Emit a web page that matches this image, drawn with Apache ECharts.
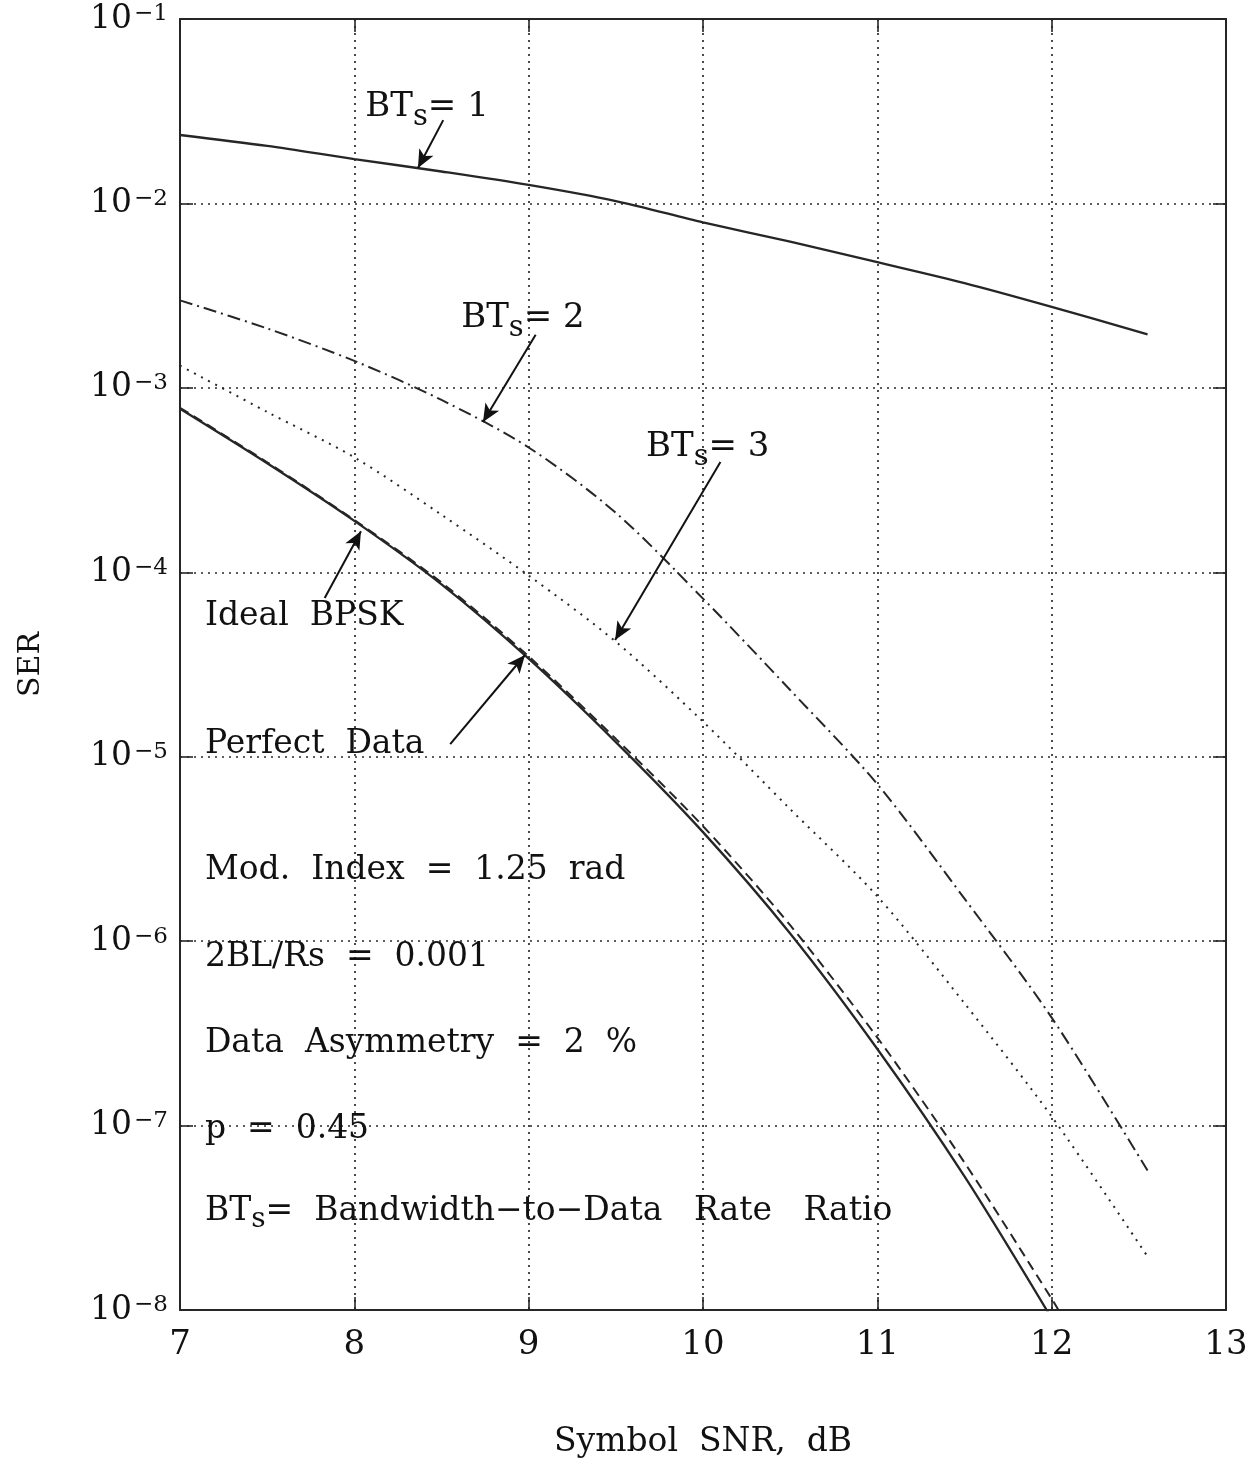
<!DOCTYPE html>
<html>
<head>
<meta charset="utf-8">
<script src="https://cdn.jsdelivr.net/npm/echarts@6/dist/echarts.min.js"></script>
<style>
  html, body { margin: 0; padding: 0; background: #ffffff; }
  #chart { width: 1257px; height: 1464px; }
</style>
</head>
<body>
<div id="chart"></div>
<script>
// Symbol SNR (dB) and symbol error rate for each curve
const snrBt = [7, 7.5, 8, 8.5, 9, 9.5, 10, 10.5, 11, 11.5, 12, 12.55];
const serBt1 = [2.35e-2, 2.05e-2, 1.74e-2, 1.49e-2, 1.26e-2, 1.03e-2, 7.9e-3, 6.2e-3, 4.8e-3, 3.7e-3, 2.75e-3, 1.95e-3];
const serBt2 = [2.98e-3, 2.1e-3, 1.4e-3, 8.6e-4, 4.75e-4, 2.1e-4, 7.2e-5, 2.3e-5, 7.1e-6, 1.7e-6, 3.85e-7, 5.7e-8];
const serBt3 = [1.32e-3, 7.4e-4, 4.2e-4, 2.05e-4, 9.6e-5, 4.2e-5, 1.55e-5, 5.2e-6, 1.75e-6, 4.6e-7, 1.12e-7, 1.95e-8];
const snrBpsk = [7, 7.5, 8, 8.5, 9, 9.5, 10, 10.5, 11, 11.5, 12];
const serBpsk = [7.7e-4, 3.9e-4, 1.9e-4, 8.6e-5, 3.4e-5, 1.2e-5, 3.9e-6, 1.1e-6, 2.6e-7, 5.3e-8, 9e-9];
const snrPerfect = [7, 7.5, 8, 8.5, 9, 9.5, 10, 10.5, 11, 11.5, 12, 12.1];
const serPerfect = [7.8e-4, 3.95e-4, 1.92e-4, 8.8e-5, 3.5e-5, 1.25e-5, 4.2e-6, 1.22e-6, 3.0e-7, 6.3e-8, 1.15e-8, 8e-9];

// Axis ranges
const snrMin = 7, snrMax = 13, snrStep = 1;
const serMin = 1e-8, serMax = 1e-1;

// Annotation texts and their anchor points (SNR dB, SER)
const noteTexts = [
  '{n|BT}{sub|s}{n|= 1}',
  '{n|BT}{sub|s}{n|= 2}',
  '{n|BT}{sub|s}{n|= 3}',
  '{t|Ideal  BPSK}',
  '{t|Perfect  Data}',
  '{t|Mod.  Index  =  1.25  rad}',
  '{t|2BL/Rs  =  0.001}',
  '{t|Data  Asymmetry  =  2  %}',
  '{t|p  =  0.45}',
  '{t|BT}{tsub|s}{t|=  Bandwidth\u2212to\u2212Data   Rate   Ratio}'
];
const noteAnchors = [
  [8.06, 3.33e-2],
  [8.61, 2.39e-3],
  [9.67, 4.78e-4],
  [7.14, 5.73e-5],
  [7.14, 1.16e-5],
  [7.14, 2.43e-6],
  [7.14, 8.2e-7],
  [7.14, 2.8e-7],
  [7.14, 9.57e-8],
  [7.14, 3.44e-8]
];

// Pointer arrows: tail and head (SNR dB, SER)
const arrowTails = [[8.51, 2.83e-2], [9.04, 1.94e-3], [10.10, 3.96e-4], [7.83, 7.26e-5], [8.55, 1.17e-5]];
const arrowHeads = [[8.365, 1.556e-2], [8.738, 6.53e-4], [9.496, 4.3e-5], [8.038, 1.67e-4], [8.979, 3.56e-5]];

const INK = '#111111';
const LINE = '#262626';
const SERIF = 'DejaVu Serif';

function pairs(xs, ys) { return xs.map((x, i) => [x, ys[i]]); }

const curveBase = {
  type: 'line',
  showSymbol: false,
  smooth: 0.3,
  clip: true,
  silent: true,
  xAxisIndex: 0,
  yAxisIndex: 0
};

// Subscript tokens are pushed down by top padding
const noteRich = {
  n: { fontFamily: SERIF, fontSize: 34, color: INK, lineHeight: 42 },
  sub: { fontFamily: SERIF, fontSize: 29, color: INK, lineHeight: 30, padding: [20, 0, 0, 0] },
  t: { fontFamily: SERIF, fontSize: 33, color: INK, lineHeight: 42 },
  tsub: { fontFamily: SERIF, fontSize: 28, color: INK, lineHeight: 30, padding: [18, 0, 0, 0] }
};

const chart = echarts.init(document.getElementById('chart'), null, { renderer: 'canvas' });

const frameAxisLine = { show: true, onZero: false, lineStyle: { color: LINE, width: 2 } };
const innerTick = { show: true, inside: true, length: 13, lineStyle: { color: LINE, width: 1.6 } };
const dotGrid = { show: true, lineStyle: { color: '#2a2a2a', width: 1.7, type: [2, 5] } };

chart.setOption({
  animation: false,
  backgroundColor: '#ffffff',
  grid: { left: 180, right: 31, top: 19, bottom: 154, outerBoundsMode: 'none', containLabel: false },
  xAxis: [
    {
      type: 'value', position: 'bottom', min: snrMin, max: snrMax, interval: snrStep,
      axisLine: frameAxisLine, axisTick: innerTick, splitLine: dotGrid,
      axisLabel: { show: true, margin: 18, color: INK, fontFamily: SERIF, fontSize: 34 },
      name: 'Symbol  SNR,  dB', nameLocation: 'middle', nameGap: 116, nameMoveOverlap: false,
      nameTextStyle: { color: INK, fontFamily: SERIF, fontSize: 33 }
    },
    {
      type: 'value', position: 'top', min: snrMin, max: snrMax, interval: snrStep,
      axisLine: frameAxisLine, axisTick: innerTick, splitLine: { show: false },
      axisLabel: { show: false }
    }
  ],
  yAxis: [
    {
      type: 'log', logBase: 10, position: 'left', min: serMin, max: serMax, splitNumber: 7,
      axisLine: frameAxisLine, axisTick: innerTick, splitLine: dotGrid,
      minorTick: { show: false }, minorSplitLine: { show: false },
      axisLabel: {
        show: true, margin: 12, color: INK,
        formatter: function (v) {
          const e = Math.round(Math.log10(v));
          return '{b|10}{s|\u2212' + (-e) + '}';
        },
        rich: {
          b: { fontFamily: SERIF, fontSize: 33, color: INK, lineHeight: 40 },
          s: { fontFamily: SERIF, fontSize: 23, color: INK, lineHeight: 26, padding: [0, 0, 9, 2] }
        }
      },
      name: 'SER', nameLocation: 'middle', nameGap: 134, nameRotate: 90, nameMoveOverlap: false,
      nameTextStyle: { color: INK, fontFamily: SERIF, fontSize: 30 }
    },
    {
      type: 'log', logBase: 10, position: 'right', min: serMin, max: serMax, splitNumber: 7,
      axisLine: frameAxisLine, axisTick: innerTick, splitLine: { show: false },
      axisLabel: { show: false }
    }
  ],
  series: [
    Object.assign({}, curveBase, {
      name: 'BTs = 1', data: pairs(snrBt, serBt1),
      lineStyle: { color: LINE, width: 2.3, type: 'solid' }
    }),
    Object.assign({}, curveBase, {
      name: 'BTs = 2', data: pairs(snrBt, serBt2),
      lineStyle: { color: LINE, width: 2, type: [13, 5, 2, 5] }
    }),
    Object.assign({}, curveBase, {
      name: 'BTs = 3', data: pairs(snrBt, serBt3),
      lineStyle: { color: LINE, width: 2, type: [2, 6] }
    }),
    Object.assign({}, curveBase, {
      name: 'Ideal BPSK', data: pairs(snrBpsk, serBpsk),
      lineStyle: { color: LINE, width: 2.3, type: 'solid' }
    }),
    Object.assign({}, curveBase, {
      name: 'Perfect Data', data: pairs(snrPerfect, serPerfect),
      lineStyle: { color: LINE, width: 2, type: [10, 6] }
    }),
    {
      name: 'notes', type: 'scatter', silent: true,
      xAxisIndex: 0, yAxisIndex: 0,
      symbol: 'circle', symbolSize: 1,
      itemStyle: { color: 'transparent', opacity: 1 },
      data: noteAnchors.map((p, i) => ({
        value: p,
        label: {
          show: true, position: 'right', distance: 0,
          formatter: noteTexts[i],
          color: INK, fontFamily: SERIF, fontSize: 33,
          opacity: 1,
          rich: noteRich
        }
      })),
      markLine: {
        silent: true,
        symbol: ['none', 'arrow'],
        symbolSize: [12, 18],
        label: { show: false },
        lineStyle: { color: INK, width: 2, type: 'solid', opacity: 1 },
        data: arrowTails.map((t, i) => [{ coord: t }, { coord: arrowHeads[i] }])
      }
    }
  ]
});
</script>
</body>
</html>
